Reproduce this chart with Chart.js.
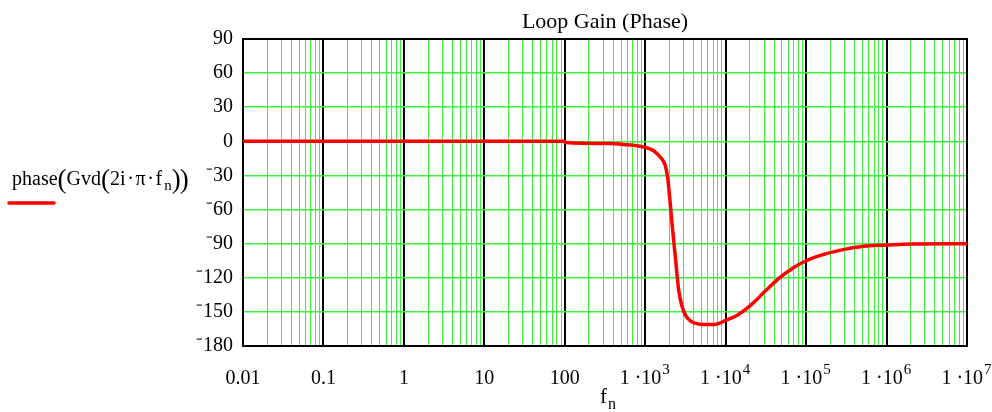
<!DOCTYPE html>
<html>
<head>
<meta charset="utf-8">
<script src="https://cdn.jsdelivr.net/npm/chart.js@4/dist/chart.umd.min.js"></script>
<style>
  html, body { margin: 0; padding: 0; background: #fff; }
  #wrap { width: 992px; height: 412px; }
</style>
</head>
<body>
<div id="wrap"><canvas id="phaseChart" width="992" height="412"></canvas></div>
<script>
// values
const freqs = [0.01, 1, 100, 101, 370, 590, 800, 1000, 1270, 1540, 1770, 1910, 2005, 2185, 2400, 2595, 2850, 3200, 3800, 4830, 6000, 7400, 1e4, 14600, 21400, 31300, 45800, 67400, 1e5, 174000, 310000, 500000, 1e6, 2e6, 1e7];
const phase = [0, 0, 0, -1, -2, -3, -4, -5.3, -8.3, -14, -21, -33, -48, -77, -106, -130, -144.5, -153.5, -158.8, -160.8, -161.2, -161, -157.5, -152, -143, -131.5, -120.6, -111.8, -105, -99, -94.8, -92.4, -91.2, -90.2, -90];
const decades = [-2, -1, 0, 1, 2, 3, 4, 5, 6, 7];
const yTicks = [90, 60, 30, 0, -30, -60, -90, -120, -150, -180];

const FONT = "'Liberation Serif', 'Times New Roman', serif";
const X_PAD = 21;

function isDecade(v) {
  const l = Math.log10(v);
  return Math.abs(l - Math.round(l)) < 1e-9;
}

const points = freqs.map((f, i) => ({ x: f, y: phase[i] }));

// title, legend, axis name and the 1·10^n labels are drawn as text on the canvas
const extras = {
  id: 'extras',
  beforeDatasetsDraw(chart) {
    const { ctx, chartArea: a } = chart;
    ctx.save();
    ctx.strokeStyle = '#000';
    ctx.lineWidth = 2;
    ctx.strokeRect(a.left, a.top, a.right - a.left, a.bottom - a.top);
    ctx.restore();
  },
  afterDraw(chart) {
    const { ctx, chartArea: a } = chart;
    const xs = chart.scales.x;
    ctx.save();
    ctx.fillStyle = '#000';
    ctx.textBaseline = 'alphabetic';

    ctx.font = '22px ' + FONT;
    ctx.textAlign = 'center';
    ctx.fillText('Loop Gain (Phase)', (a.left + a.right) / 2, 28);

    // big decade labels with a real superscript
    ctx.textBaseline = 'middle';
    const ly = xs.top + X_PAD + 12;
    decades.filter(e => e >= 3).forEach(e => {
      const px = xs.getPixelForValue(Math.pow(10, e));
      ctx.font = '20px ' + FONT;
      const w1 = ctx.measureText('1 ·10').width;
      ctx.font = '15px ' + FONT;
      const w2 = ctx.measureText(String(e)).width;
      let x0 = px - (w1 + w2) / 2 - 1;
      ctx.textAlign = 'left';
      ctx.font = '20px ' + FONT;
      ctx.fillText('1 ·10', x0, ly);
      ctx.font = '15px ' + FONT;
      ctx.fillText(String(e), x0 + w1 + 1, ly - 9);
    });

    // x axis name f_n
    ctx.textBaseline = 'alphabetic';
    ctx.textAlign = 'left';
    ctx.font = '21px ' + FONT;
    ctx.fillText('f', 600, 403);
    ctx.font = '16px ' + FONT;
    ctx.fillText('n', 608, 409);

    // legend
    let x = 12;
    const base = 185;
    const part = (txt, size, dy, gap) => {
      ctx.font = size + 'px ' + FONT;
      ctx.fillText(txt, x, base + (dy || 0));
      x += ctx.measureText(txt).width + (gap || 0);
    };
    part('phase', 20, 0, 0);
    part('(', 27, 3, 0);
    part('Gvd', 20, 0, 0);
    part('(', 27, 3, 0);
    part('2i\u200a·\u200aπ\u200a·\u200af', 20, 0, 2);
    part('n', 15, 5, 0);
    part(')', 27, 3, -1);
    part(')', 27, 3, 0);

    ctx.strokeStyle = '#ff0000';
    ctx.lineWidth = 3.5;
    ctx.lineCap = 'round';
    ctx.beginPath();
    ctx.moveTo(9, 203);
    ctx.lineTo(54, 203);
    ctx.stroke();
    ctx.restore();
  }
};

new Chart(document.getElementById('phaseChart'), {
  type: 'line',
  data: {
    datasets: [{
      data: points,
      borderColor: '#ff0000',
      borderWidth: 3.5,
      pointRadius: 0,
      cubicInterpolationMode: 'monotone',
      fill: false
    }]
  },
  options: {
    responsive: false,
    animation: false,
    layout: { padding: { left: 0, right: 25, top: 39, bottom: 0 } },
    plugins: {
      legend: { display: false },
      title: { display: false },
      tooltip: { enabled: false }
    },
    scales: {
      x: {
        type: 'logarithmic',
        min: 0.01,
        max: 1e7,
        afterFit(scale) {
          scale.height = 66;
          scale.paddingLeft = 0;
          scale.paddingRight = 0;
        },
        afterBuildTicks(scale) {
          const t = [];
          decades.forEach(e => {
            for (let k = 1; k <= 9; k++) {
              const v = Number((k * Math.pow(10, e)).toPrecision(6));
              if (v <= 1e7 + 1) t.push({ value: v });
            }
          });
          scale.ticks = t;
        },
        ticks: {
          autoSkip: false,
          maxRotation: 0,
          padding: X_PAD,
          color: '#000',
          font: { family: FONT, size: 20 },
          callback: (v) => (isDecade(v) && v < 1000) ? String(v) : ''
        },
        grid: {
          drawTicks: false,
          color: (c) => (c.tick && isDecade(c.tick.value)) ? '#000' : '#3cf03c',
          lineWidth: (c) => (c.tick && isDecade(c.tick.value)) ? 2 : 1
        },
        border: { color: '#000', width: 2 }
      },
      y: {
        min: -180,
        max: 90,
        afterFit(scale) { scale.width = 243; },
        afterBuildTicks(scale) {
          scale.ticks = yTicks.map(v => ({ value: v }));
        },
        ticks: {
          padding: 10,
          color: '#000',
          font: { family: FONT, size: 20 },
          callback: (v) => v < 0 ? '⁻' + Math.abs(v) : String(v)
        },
        grid: { drawTicks: false, color: '#3cf03c', lineWidth: 1.5 },
        border: { color: '#000', width: 2 }
      }
    }
  },
  plugins: [extras]
});
</script>
</body>
</html>
